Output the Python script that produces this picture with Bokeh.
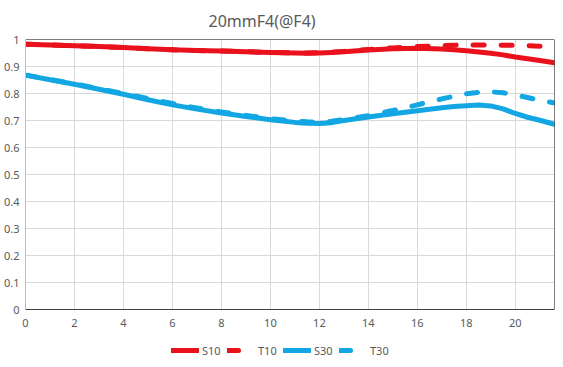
from bokeh.plotting import figure
from bokeh.layouts import column
from bokeh.models import Legend, LegendItem, Span, FixedTicker, Range1d
from bokeh.embed import file_html
from bokeh.resources import INLINE

title = "20mmF4(@F4)"
x = [0, 1, 2, 3, 4, 5, 6, 7, 8, 9, 10, 11, 11.5, 12, 12.5, 13, 14, 15, 16, 17, 17.5, 18, 18.5,
     19, 19.5, 20, 20.5, 21, 21.6]
s10 = [0.982, 0.980, 0.977, 0.974, 0.970, 0.966, 0.962, 0.959, 0.957, 0.955, 0.952, 0.950, 0.949,
       0.950, 0.952, 0.955, 0.961, 0.966, 0.968, 0.965, 0.962, 0.958, 0.954,
       0.949, 0.943, 0.935, 0.929, 0.922, 0.914]
t10 = [0.982, 0.980, 0.977, 0.974, 0.970, 0.966, 0.962, 0.959, 0.957, 0.955, 0.952, 0.950, 0.950,
       0.951, 0.953, 0.956, 0.963, 0.969, 0.974, 0.977, 0.979, 0.980, 0.980,
       0.980, 0.979, 0.978, 0.977, 0.975, 0.973]
s30 = [0.868, 0.851, 0.834, 0.816, 0.797, 0.777, 0.758, 0.742, 0.728, 0.715, 0.703, 0.693, 0.690,
       0.689, 0.692, 0.700, 0.713, 0.725, 0.736, 0.747, 0.752, 0.755, 0.757,
       0.754, 0.743, 0.726, 0.712, 0.701, 0.686]
t30 = [0.868, 0.852, 0.836, 0.818, 0.800, 0.781, 0.763, 0.746, 0.732, 0.719, 0.707, 0.698, 0.695,
       0.694, 0.697, 0.704, 0.718, 0.737, 0.758, 0.780, 0.790, 0.799, 0.804,
       0.806, 0.803, 0.795, 0.785, 0.775, 0.765]
series_names = ["S10", "T10", "S30", "T30"]
x_ticks = [0, 2, 4, 6, 8, 10, 12, 14, 16, 18, 20]
y_ticks = [0, 0.1, 0.2, 0.3, 0.4, 0.5, 0.6, 0.7, 0.8, 0.9, 1]
y_labels = ["0", "0.1", "0.2", "0.3", "0.4", "0.5", "0.6", "0.7", "0.8", "0.9", "1"]
x_max = 21.6

RED = "#e8111c"
BLUE = "#12a7e2"
GRAY = "#595959"
FONT = "Noto Sans"
DASH = "11 17"

p = figure(frame_width=529, frame_height=270, output_backend="svg", toolbar_location=None,
           x_range=Range1d(0, x_max), y_range=Range1d(0, 1), title=title,
           min_border_left=0, min_border_right=2, min_border_top=0, min_border_bottom=26)

p.title.text_font = FONT
p.title.text_font_size = "16px"
p.title.text_font_style = "normal"
p.title.text_color = GRAY
p.title.align = "left"
p.title.offset = 183
p.title.standoff = 15

p.outline_line_color = None
p.background_fill_color = "white"

for g in (p.xgrid, p.ygrid):
    g.grid_line_color = "#d9d9d9"
    g.grid_line_width = 1
p.xgrid.ticker = FixedTicker(ticks=x_ticks)
p.ygrid.ticker = FixedTicker(ticks=y_ticks)

p.xaxis.ticker = FixedTicker(ticks=x_ticks)
p.yaxis.ticker = FixedTicker(ticks=y_ticks)
p.yaxis.major_label_overrides = {t: l for t, l in zip(y_ticks, y_labels)}
for ax in (p.xaxis, p.yaxis):
    ax.major_tick_in = 0
    ax.major_tick_out = 0
    ax.minor_tick_in = 0
    ax.minor_tick_out = 0
    ax.major_label_text_font = FONT
    ax.major_label_text_font_size = "11px"
    ax.major_label_text_color = GRAY
p.xaxis.axis_line_color = "#404040"
p.yaxis.axis_line_color = "#bfbfbf"
p.xaxis.major_label_standoff = 9
p.yaxis.major_label_standoff = 6

p.add_layout(Span(location=1, dimension="width", line_color="black", line_width=1))
p.add_layout(Span(location=x_max, dimension="height", line_color="black", line_width=1))

styles = [dict(line_color=RED), dict(line_color=RED, line_dash=DASH),
          dict(line_color=BLUE), dict(line_color=BLUE, line_dash=DASH)]
series = [s10, t10, s30, t30]
for ys, st in zip(series, styles):
    p.line(x, ys, line_width=5, line_cap="round", line_join="round", **st)

# legend row below the chart (its own lines sit outside its visible range)
lf = figure(width=547, height=23, output_backend="svg", toolbar_location=None,
            x_range=Range1d(0, x_max), y_range=Range1d(2, 3),
            min_border=0, min_border_left=0, min_border_right=0,
            min_border_top=0, min_border_bottom=0)
lf.axis.visible = False
lf.grid.visible = False
lf.outline_line_color = None
items = []
for name, ys, st in zip(series_names, series, styles):
    r = lf.line(x, ys, line_width=5, line_cap="round", **st)
    items.append(LegendItem(label=name, renderers=[r]))
legend = Legend(items=items, orientation="horizontal", location=(146, 0),
                border_line_color=None, background_fill_alpha=0,
                glyph_width=28, glyph_height=16, label_height=16, label_standoff=3, spacing=5,
                label_text_font=FONT, label_text_font_size="11px",
                label_text_color=GRAY, padding=0, margin=0)
lf.add_layout(legend)

open("out.html", "w").write(file_html(column(p, lf, spacing=0), INLINE))
